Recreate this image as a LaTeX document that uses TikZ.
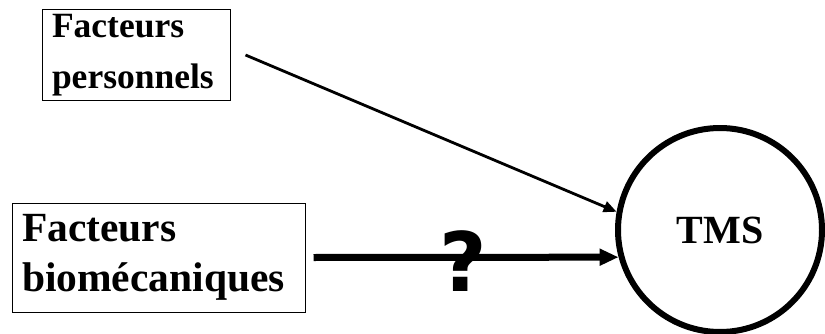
\documentclass[tikz,border=0pt]{standalone}
\usepackage{fontspec}
\setmainfont{Liberation Serif}
\newfontfamily\qfont{DejaVu Sans}
\usetikzlibrary{arrows.meta}

\begin{document}
\begin{tikzpicture}[
  x=1pt, y=1pt,
  box/.style={
    draw, line width=1pt, rectangle, inner sep=0pt, align=left
  },
  tms/.style={
    draw, circle, line width=6pt, inner sep=0pt, minimum size=204pt,
    font=\fontsize{40}{48}\selectfont\bfseries
  },
  arr/.style={-{Triangle[length=13pt, width=11pt]}, line width=2.8pt},
  bigarr/.style={-{Triangle[length=19pt, width=16pt]}, line width=7pt},
  lbl/.style={font=\fontsize{82}{82}\selectfont\qfont\bfseries, inner sep=0pt},
]

\useasboundingbox (0,0) rectangle (825,333);

\node[box, minimum width=188pt, minimum height=91pt, text width=168pt,
  font=\fontsize{35.5}{51}\selectfont\bfseries] (perso) at (136,278)
  {Facteurs\\personnels};
\node[box, minimum width=293pt, minimum height=109pt, text width=273pt,
  font=\fontsize{41.5}{50}\selectfont\bfseries] (bio) at (158.5,75.5)
  {Facteurs\\biomécaniques};
\node[tms] (tmsc) at (720,103) {TMS};

\draw[arr] ([xshift=15pt]perso.east) -- (tmsc.170);
\draw[bigarr] ([xshift=8pt]bio.east) --
  node[lbl, pos=0.49, yshift=-4pt] {?} (tmsc.195);

\end{tikzpicture}
\end{document}
